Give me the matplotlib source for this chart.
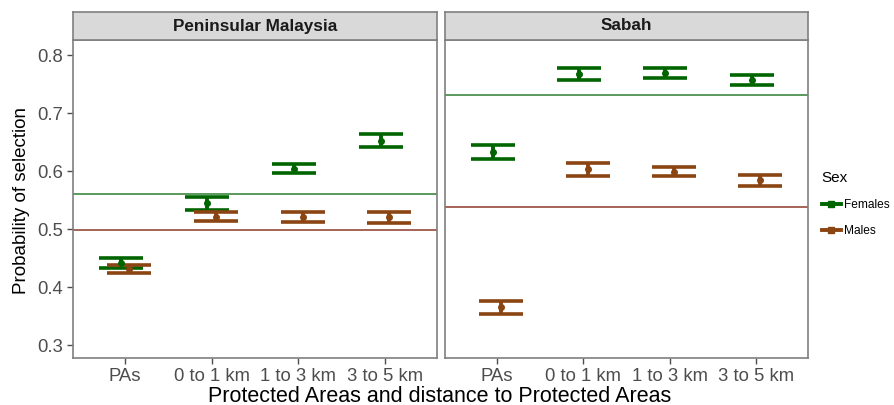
import numpy as np
import matplotlib
matplotlib.use("Agg")
import matplotlib.pyplot as plt
from matplotlib.lines import Line2D

plt.rcParams['font.family'] = ['Liberation Sans', 'DejaVu Sans']

categories = ["PAs", "0 to 1 km", "1 to 3 km", "3 to 5 km"]
panels = ["Peninsular Malaysia", "Sabah"]

# Peninsular Malaysia
pm_fem = [0.441, 0.545, 0.604, 0.652]
pm_fem_lo = [0.432, 0.533, 0.596, 0.641]
pm_fem_hi = [0.450, 0.556, 0.613, 0.664]
pm_male = [0.431, 0.521, 0.520, 0.520]
pm_male_lo = [0.424, 0.514, 0.512, 0.510]
pm_male_hi = [0.438, 0.529, 0.529, 0.530]
pm_fem_mean = 0.560
pm_male_mean = 0.499

# Sabah
sb_fem = [0.633, 0.767, 0.769, 0.757]
sb_fem_lo = [0.621, 0.757, 0.761, 0.748]
sb_fem_hi = [0.645, 0.778, 0.777, 0.766]
sb_male = [0.365, 0.603, 0.599, 0.584]
sb_male_lo = [0.354, 0.592, 0.591, 0.574]
sb_male_hi = [0.376, 0.614, 0.607, 0.594]
sb_fem_mean = 0.732
sb_male_mean = 0.538

fem_col = "#006400"
male_col = "#8B4513"

W, H = 894, 405
fig = plt.figure(figsize=(W / 100, H / 100), dpi=100)

def px_axes(x0, y0, x1, y1):
    # pixel box (top-left origin) to figure coords
    return fig.add_axes([x0 / W, 1 - y1 / H, (x1 - x0) / W, (y1 - y0) / H])

panel_data = [
    (pm_fem, pm_fem_lo, pm_fem_hi, pm_male, pm_male_lo, pm_male_hi, pm_fem_mean, pm_male_mean),
    (sb_fem, sb_fem_lo, sb_fem_hi, sb_male, sb_male_lo, sb_male_hi, sb_fem_mean, sb_male_mean),
]
boxes = [(73, 437), (445, 808)]

for i, (name, data, (x0, x1)) in enumerate(zip(panels, panel_data, boxes)):
    f, flo, fhi, m, mlo, mhi, fmean, mmean = data
    ax = px_axes(x0, 40, x1, 358)
    x = np.arange(1, len(categories) + 1)
    f, flo, fhi = map(np.array, (f, flo, fhi))
    m, mlo, mhi = map(np.array, (m, mlo, mhi))

    ax.axhline(fmean, color="#2E7D32", lw=1.1, zorder=1)
    ax.axhline(mmean, color="#8B3A2A", lw=1.1, zorder=1)

    ax.errorbar(x - 0.05, f, yerr=[f - flo, fhi - f], fmt="o", color=fem_col,
                ms=4, capsize=15.5, capthick=2.6, elinewidth=2.8, zorder=3)
    ax.errorbar(x + 0.05, m, yerr=[m - mlo, mhi - m], fmt="o", color=male_col,
                ms=4, capsize=15.5, capthick=2.6, elinewidth=2.8, zorder=3)

    ax.set_xlim(0.4, 4.6)
    ax.set_ylim(0.2776, 0.826)
    ax.set_xticks(x)
    ax.set_xticklabels(categories, fontsize=13.3, color="#4D4D4D")
    ax.set_yticks([0.3, 0.4, 0.5, 0.6, 0.7, 0.8])
    if i == 0:
        ax.set_yticklabels(["0.3", "0.4", "0.5", "0.6", "0.7", "0.8"], fontsize=13.3, color="#4D4D4D")
    else:
        ax.tick_params(axis="y", left=False, labelleft=False)
    ax.tick_params(colors="#4D4D4D", length=4, width=1, labelcolor="#4D4D4D", pad=3)
    for s in ax.spines.values():
        s.set_color("#7F7F7F")
        s.set_linewidth(1.2)

    # facet strip
    sax = px_axes(x0, 12, x1, 40)
    sax.set_facecolor("#D9D9D9")
    sax.set_xticks([])
    sax.set_yticks([])
    for s in sax.spines.values():
        s.set_color("#7F7F7F")
        s.set_linewidth(1.2)
    sax.text(0.5, 0.5, name, ha="center", va="center", fontsize=12.3,
             fontweight="bold", color="#1A1A1A", transform=sax.transAxes)

fig.text(440 / W, 1 - 396 / H, "Protected Areas and distance to Protected Areas",
         ha="center", va="center", fontsize=15.5)
fig.text(22 / W, 1 - 200 / H, "Probability of selection", ha="center", va="center",
         rotation=90, fontsize=13.5)

handles = [
    Line2D([0], [0], color=fem_col, lw=2.8, marker="s", ms=4),
    Line2D([0], [0], color=male_col, lw=2.8, marker="s", ms=4),
]
leg = fig.legend(handles, ["Females", "Males"], title="Sex", loc="upper left",
                 bbox_to_anchor=(811 / W, 1 - 160 / H), frameon=False,
                 fontsize=8.6, title_fontsize=11, handlelength=1.6,
                 labelspacing=1.2, handletextpad=0.3)
leg._legend_box.align = "left"

fig.savefig("out.png", dpi=100)
